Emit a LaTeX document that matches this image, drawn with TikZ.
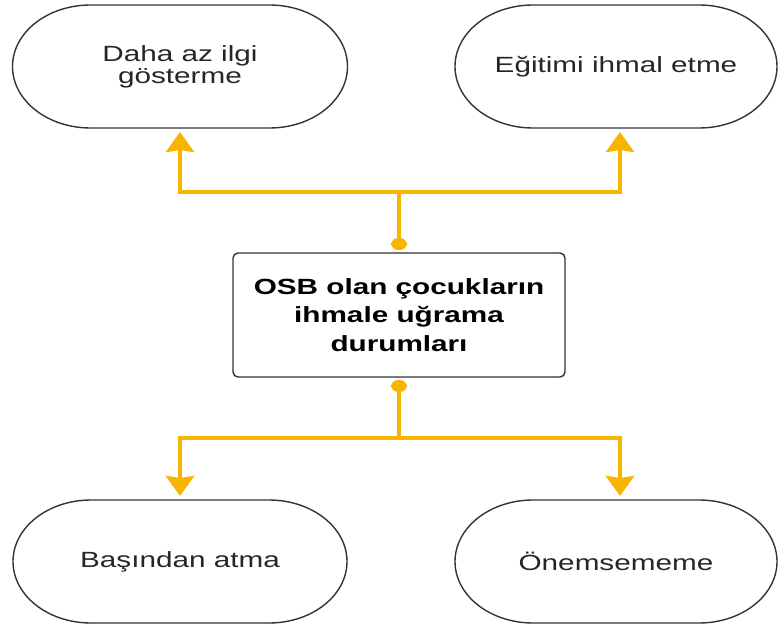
\documentclass[tikz,border=0pt]{standalone}
\usepackage{fontspec}
\setmainfont{Liberation Sans}[FakeStretch=1.35]
\usetikzlibrary{arrows.meta}
\definecolor{connc}{HTML}{F7B500}
\definecolor{edgec}{HTML}{333333}
\definecolor{txtc}{HTML}{262626}
\newcommand\stadiumpath[1]{%
  \draw[outline] ([xshift=78pt]#1.north west) -- ([xshift=-78pt]#1.north east)
    arc[start angle=90,end angle=-90,x radius=78pt,y radius=61.5pt]
    -- ([xshift=78pt]#1.south west)
    arc[start angle=270,end angle=90,x radius=78pt,y radius=61.5pt] -- cycle;}
\begin{document}
\begin{tikzpicture}[x=1pt,y=1pt,
  outline/.style={draw=edgec,line width=1.4pt},
  term/.style={inner sep=0pt,outer sep=0pt,minimum height=123pt,align=center,
    text=txtc,font=\fontsize{22}{22}\selectfont},
  core/.style={draw=edgec,line width=1.4pt,rounded corners=5pt,inner sep=0pt,outer sep=0pt,
    minimum width=332pt,minimum height=124pt,align=center,text=black,
    font=\fontsize{22}{28.5}\selectfont\bfseries},
  link/.style={draw=connc,line width=4.5pt},
  tipend/.style={-{Stealth[width=28pt,length=20pt,inset=2pt]}},
  tipboth/.style={{Circle[length=12pt,width=16pt]}-{Stealth[width=28pt,length=20pt,inset=2pt]}}]
\useasboundingbox (0,0) rectangle (779,633);

\node[term,minimum width=335pt] (tl) at (180,566.5) {Daha az ilgi\\gösterme};
\node[term,minimum width=322pt] (tr) at (616,566.5) {Eğitimi ihmal etme};
\node[term,minimum width=334pt] (bl) at (180,71.5) {Başından atma};
\node[term,minimum width=322pt] (br) at (616,71.5) {Önemsememe};
\stadiumpath{tl}
\stadiumpath{tr}
\stadiumpath{bl}
\stadiumpath{br}

\node[core] (c) at (399,318) {OSB olan çocukların\\ihmale uğrama\\durumları};

\coordinate (jt) at (399,441);
\coordinate (jb) at (399,195);

\draw[link,tipboth,shorten <=3pt] (c.north) -- (jt) -| ([yshift=-4pt]tl.south);
\draw[link,tipend] (jt) -| ([xshift=4pt,yshift=-4pt]tr.south);
\draw[link,tipboth,shorten <=3pt] (c.south) -- (jb) -| ([yshift=4pt]bl.north);
\draw[link,tipend] (jb) -| ([xshift=4pt,yshift=4pt]br.north);
\end{tikzpicture}
\end{document}
